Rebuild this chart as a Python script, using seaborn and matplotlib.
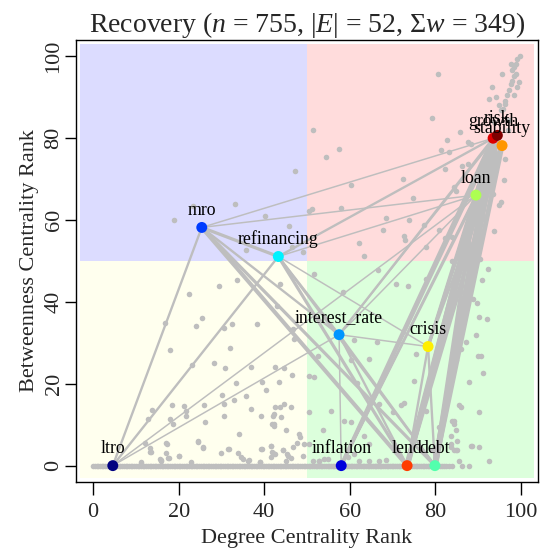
import matplotlib
matplotlib.use("Agg")
import matplotlib.pyplot as plt
import seaborn as sns
import pandas as pd
from matplotlib.patches import Rectangle

# ---------------- data ----------------
node_names = ["ltro", "inflation", "mro", "interest_rate", "refinancing", "debt",
              "loan", "crisis", "stability", "lend", "growth", "risk"]
node_deg = [4.6, 58.0, 25.4, 57.5, 43.3, 79.9, 89.5, 78.3, 95.6, 73.4, 93.5, 94.5]
node_btw = [0.0, 0.0, 58.2, 32.0, 51.1, 0.0, 66.1, 29.1, 78.2, 0.0, 80.0, 80.7]
node_colors = ["#000080", "#0000dc", "#003cff", "#0096ff", "#00f2ff", "#52ffad",
               "#adff52", "#ffee00", "#ff9600", "#ff3c00", "#dc0000", "#800000"]

edge_from = ["ltro", "ltro", "ltro", "ltro", "ltro", "ltro", "ltro",
             "mro", "mro", "mro", "mro", "mro", "mro",
             "refinancing", "refinancing", "refinancing", "refinancing", "refinancing", "refinancing",
             "interest_rate", "interest_rate", "interest_rate", "interest_rate", "interest_rate",
             "interest_rate", "interest_rate",
             "crisis", "crisis", "crisis", "crisis", "crisis", "crisis",
             "inflation", "inflation", "inflation", "inflation", "inflation", "inflation",
             "lend", "lend", "lend", "lend", "lend",
             "debt", "debt", "debt", "debt",
             "loan", "loan", "loan",
             "growth", "growth"]
edge_to = ["mro", "refinancing", "loan", "interest_rate", "inflation", "lend", "debt",
           "refinancing", "lend", "debt", "growth", "loan", "interest_rate",
           "interest_rate", "lend", "debt", "crisis", "loan", "growth",
           "crisis", "inflation", "lend", "debt", "growth", "risk", "loan",
           "lend", "debt", "growth", "risk", "stability", "loan",
           "lend", "growth", "risk", "loan", "debt", "stability",
           "debt", "growth", "risk", "stability", "loan",
           "growth", "risk", "stability", "loan",
           "growth", "risk", "stability",
           "risk", "stability"]
edge_w = [2, 2, 1, 1, 5, 3, 2,
          3, 4, 3, 1, 1, 2,
          2, 3, 2, 1, 1, 2,
          1, 1, 2, 2, 2, 1, 1,
          2, 2, 3, 3, 2, 2,
          4, 4, 3, 2, 3, 2,
          4, 6, 5, 4, 3,
          6, 6, 5, 4,
          4, 3, 3,
          5, 4]

# background words (degree rank, betweenness rank)
bg_deg = [22.4, 29.4, 33.7, 16.8, 25.5, 24.1, 30.6, 32.5, 38.3, 17.9, 23.2, 32.1, 28.3, 30.8,
          37.0, 42.6, 44.6, 46.4, 42.9, 43.8, 46.7, 46.9, 50.5, 33.5, 35.8, 33.0, 39.4, 40.3,
          43.4, 30.2, 30.6, 25.9, 26.1, 21.2, 21.6, 18.5, 18.7, 18.0, 13.7, 12.9, 12.1, 13.2,
          13.2, 17.1, 17.0, 17.6, 15.8, 24.6, 25.8, 20.1, 22.8, 34.1, 31.7, 33.8, 34.6, 29.9,
          36.4, 39.1, 41.5, 41.8, 42.6, 39.5, 45.3, 47.7, 48.4, 46.3, 50.4, 42.5, 43.8, 46.3,
          42.2, 41.8, 35.8, 18.9, 23.3, 33.1, 40.1, 47.3, 51.4, 45.9, 50.4, 51.2, 46.5, 49.0,
          54.4, 57.5, 60.4, 57.9, 62.2, 63.4, 68.4, 67.8, 72.7, 73.9, 74.8, 72.5, 82.8, 81.3,
          83.2, 85.7, 87.7, 88.3, 82.3, 86.3, 87.7, 84.4, 84.8, 96.0, 95.3, 93.5, 77.4, 77.9,
          80.9, 82.3, 84.0, 72.9, 96.4, 87.9, 99.7, 99.1, 98.8, 98.4, 98.0, 97.6, 98.8, 98.4,
          98.0, 97.6, 97.2, 96.8, 96.4, 96.3, 95.9, 95.6, 93.3, 92.5, 94.1, 94.9, 95.3, 99.5,
          99.1, 98.4, 80.7, 79.2, 94.9, 91.0, 92.9, 93.3, 51.7, 58.3, 66.7, 70.8, 73.5, 77.8,
          83.8, 89.8, 92.4, 89.6, 90.0, 90.6, 91.1, 87.9, 84.8, 85.9, 90.2, 84.0, 84.4, 83.6,
          85.9, 51.7, 55.6, 52.5, 61.8, 64.5, 66.3, 60.3, 61.0, 71.9, 72.7, 75.0, 75.4, 78.1,
          77.8, 80.8, 83.6, 84.8, 79.3, 66.9, 70.0, 58.7, 60.3, 63.4, 64.5, 70.0, 68.4, 66.9,
          64.5, 62.2, 61.0, 54.0, 52.9, 51.3, 46.7, 44.3, 45.1, 48.2, 53.7, 45.1, 43.9, 44.7,
          50.5, 88.3, 90.2, 92.5, 85.5, 84.4, 85.1, 88.6, 21.8, 30.5, 36.9, 39.3, 42.0, 42.4,
          24.5, 25.7, 17.3, 13.6, 17.7, 20.0, 15.6, 15.9, 11.3, 31.5, 35.0, 36.2, 38.9, 41.6,
          39.3, 42.0, 41.6, 42.4, 44.3, 45.5, 49.0, 49.4, 52.9, 54.8, 59.5, 83.6, 85.1, 84.4,
          84.8, 85.5, 91.5, 90.8, 92.0, 88.9, 87.2, 86.0, 93.7, 92.6, 91.9, 90.4, 97.3, 96.9,
          94.4, 93.8, 88.5, 86.7, 85.0, 90.2]
bg_btw = [42.0, 43.8, 45.4, 34.8, 36.1, 34.2, 33.7, 34.6, 34.6, 28.3, 24.6, 28.7, 25.1, 23.9,
          24.2, 24.2, 23.9, 22.2, 39.1, 44.4, 33.4, 31.0, 21.8, 20.2, 16.9, 16.1, 20.4, 18.5,
          20.5, 17.3, 15.1, 14.8, 10.6, 14.6, 13.4, 14.8, 10.2, 11.4, 13.6, 11.4, 5.5, 4.3,
          3.3, 5.5, 3.0, 1.9, 1.4, 5.9, 4.3, 2.4, 0.8, 7.7, 4.0, 3.0, 2.2, 3.0,
          1.4, 0.8, 4.9, 3.3, 2.9, 4.1, 2.9, 5.5, 6.9, 1.8, 5.3, 14.3, 14.3, 14.3,
          12.5, 10.2, 52.7, 60.1, 63.4, 64.0, 61.0, 72.1, 82.1, 58.6, 62.3, 62.8, 53.4, 52.3,
          75.5, 77.4, 68.5, 63.0, 54.4, 51.3, 60.6, 57.6, 56.2, 59.9, 65.5, 70.1, 79.6, 77.2,
          76.6, 81.5, 79.0, 78.5, 72.5, 73.3, 73.8, 68.0, 67.2, 69.7, 64.4, 66.3, 58.9, 53.4,
          57.5, 55.7, 55.8, 55.2, 75.0, 54.2, 100.0, 99.4, 98.2, 97.4, 96.6, 98.2, 95.8, 95.1,
          94.1, 93.3, 91.7, 90.5, 89.2, 88.4, 87.2, 95.8, 92.5, 89.7, 90.1, 88.0, 86.8, 93.7,
          92.5, 90.5, 95.8, 85.0, 63.6, 72.9, 70.5, 66.4, 46.9, 42.4, 47.8, 44.4, 44.0, 45.6,
          50.1, 39.7, 48.1, 31.8, 26.7, 26.9, 22.6, 20.4, 25.7, 28.5, 13.0, 11.0, 10.2, 7.3,
          14.3, 21.6, 13.4, 26.9, 20.1, 26.1, 30.1, 25.7, 30.6, 14.9, 15.2, 20.8, 27.3, 17.9,
          13.4, 9.4, 4.5, 3.7, 3.7, 15.1, 13.0, 11.0, 10.6, 7.3, 5.3, 4.5, 1.4, 1.2,
          1.2, 1.2, 2.9, 1.6, 1.2, 1.2, 4.5, 3.7, 1.2, 7.7, 8.6, 8.6, 11.8, 15.1,
          13.0, 4.9, 4.5, 1.2, 1.2, 3.7, 3.8, 4.7, 12.2, 12.2, 13.9, 12.2, 12.2, 9.8,
          5.7, 4.5, 5.3, 3.3, 1.9, 2.4, 1.6, 1.1, 0.8, 4.1, 1.6, 1.2, 0.8, 2.0,
          4.1, 3.0, 4.9, 10.2, 3.7, 2.4, 2.4, 5.3, 1.2, 1.6, 2.0, 5.3, 6.1, 11.0,
          8.6, 14.7, 60.2, 45.3, 35.8, 40.6, 30.2, 38.1, 84.0, 76.2, 70.1, 50.4, 84.5, 81.9,
          74.6, 57.3, 62.1, 48.8, 42.0, 36.3]

# nodes with zero betweenness (degree rank)
zero_deg = [0.0, 0.4, 0.8, 1.2, 1.6, 2.0, 2.4, 2.8, 3.2, 3.6, 4.0, 5.2, 5.6, 6.0, 6.4, 6.8,
            7.2, 7.6, 8.0, 8.4, 8.8, 9.2, 9.6, 10.0, 10.4, 10.8, 11.2, 11.6, 12.0, 12.4, 12.8,
            13.2, 13.6, 14.0, 14.4, 14.8, 15.2, 15.6, 16.0, 16.4, 16.8, 17.2, 17.6, 18.0, 18.4,
            18.8, 19.2, 19.6, 20.0, 20.4, 20.8, 21.2, 21.6, 22.0, 22.4, 22.8, 23.2, 23.6, 24.0,
            24.4, 24.8, 25.2, 25.6, 26.0, 26.4, 26.8, 27.2, 27.6, 28.0, 28.4, 28.8, 29.2, 29.6,
            30.0, 30.4, 30.8, 31.2, 31.6, 32.0, 32.4, 32.8, 33.2, 33.6, 34.0, 34.4, 34.8, 35.2,
            35.6, 36.0, 36.4, 36.8, 37.2, 37.6, 38.0, 38.4, 38.8, 39.2, 39.6, 40.0, 40.4, 40.8,
            41.2, 41.6, 42.0, 42.4, 42.8, 43.2, 43.6, 44.0, 44.4, 44.8, 45.2, 45.6, 46.0, 46.4,
            46.8, 47.2, 47.6, 48.0, 48.4, 48.8, 49.2, 49.6, 50.0, 50.4, 50.8, 51.2, 51.6, 52.0,
            52.4, 52.8, 53.2, 53.6, 54.0, 54.4, 54.8, 55.2, 55.6, 56.0, 56.4, 56.8, 57.2, 59.0,
            59.4, 59.8, 60.2, 60.6, 61.0, 61.4, 61.8, 62.2, 62.6, 63.0, 63.4, 63.8, 64.2, 64.6,
            65.0, 65.4, 65.8, 66.2, 66.6, 67.0, 67.4, 67.8, 68.2, 68.6, 69.0, 69.4, 69.8, 70.2,
            70.6, 71.0, 71.4, 71.8, 72.2, 74.6, 75.0, 75.4, 75.8, 76.2, 76.6, 77.0, 77.4, 77.8,
            78.2, 78.6, 81.2, 81.6, 82.0, 82.4, 83.2, 84.0, 86.3, 87.9]
zero_btw = [0.0] * len(zero_deg)

title_text = r"Recovery ($n$ = 755, |$E$| = 52, $\Sigma w$ = 349)"
x_label = "Degree Centrality Rank"
y_label = "Betweenness Centrality Rank"
ticks = [0, 20, 40, 60, 80, 100]

# ---------------- style ----------------
sns.set_style("white")
plt.rcParams["font.family"] = ["Liberation Serif", "DejaVu Serif"]
plt.rcParams["mathtext.fontset"] = "custom"
plt.rcParams["mathtext.rm"] = "Liberation Serif"
plt.rcParams["mathtext.it"] = "Liberation Serif:italic"
plt.rcParams["mathtext.bf"] = "Liberation Serif:bold"

fig = plt.figure(figsize=(5.5, 5.5), dpi=100)
ax = fig.add_axes([76 / 550, 1 - 482 / 550, 462 / 550, 442 / 550])
ax.set_xlim(-4, 104)
ax.set_ylim(-4, 104)

# quadrant backgrounds
quad = [(-3, 50, 53, 53, "#dcdcff"), (50, 50, 53, 53, "#ffdcdc"),
        (-3, -3, 53, 53, "#ffffee"), (50, -3, 53, 53, "#dcffdc")]
for x0, y0, w, h, c in quad:
    ax.add_patch(Rectangle((x0, y0), w, h, facecolor=c, edgecolor="none", zorder=0))

grey = "#bebebe"
bg = pd.DataFrame({"deg": bg_deg + zero_deg, "btw": bg_btw + zero_btw})
sns.scatterplot(data=bg, x="deg", y="btw", color=grey, s=16, linewidth=0, ax=ax, zorder=2)

pos = {n: (d, b) for n, d, b in zip(node_names, node_deg, node_btw)}
for f, t, w in zip(edge_from, edge_to, edge_w):
    ax.plot([pos[f][0], pos[t][0]], [pos[f][1], pos[t][1]], color=grey,
            lw=0.45 + 0.62 * w, solid_capstyle="round", zorder=3)

nodes = pd.DataFrame({"deg": node_deg, "btw": node_btw, "name": node_names})
sns.scatterplot(data=nodes, x="deg", y="btw", hue="name", palette=dict(zip(node_names, node_colors)),
                s=62, linewidth=0, ax=ax, legend=False, zorder=4)
for n, d, b in zip(node_names, node_deg, node_btw):
    ax.annotate(n, (d, b), xytext=(0, 9), textcoords="offset points", ha="center",
                va="baseline", fontsize=12.8, color="black", zorder=5)

ax.set_xticks(ticks)
ax.set_yticks(ticks)
ax.set_xticklabels([str(t) for t in ticks], fontsize=16)
ax.set_yticklabels([str(t) for t in ticks], fontsize=16, rotation=90, va="center")
ax.tick_params(axis="x", direction="out", length=9, width=1, color="black", pad=6,
               bottom=True)
ax.tick_params(axis="y", direction="out", length=8, width=1, color="black", pad=1,
               left=True)
for s in ax.spines.values():
    s.set_visible(True)
    s.set_color("black")
    s.set_linewidth(1)
ax.set_xlabel(x_label, fontsize=16, labelpad=5)
ax.set_ylabel(y_label, fontsize=16, labelpad=4)
ax.set_title(title_text, fontsize=20, pad=6)
ax.grid(False)

fig.savefig("out.png", dpi=100)
